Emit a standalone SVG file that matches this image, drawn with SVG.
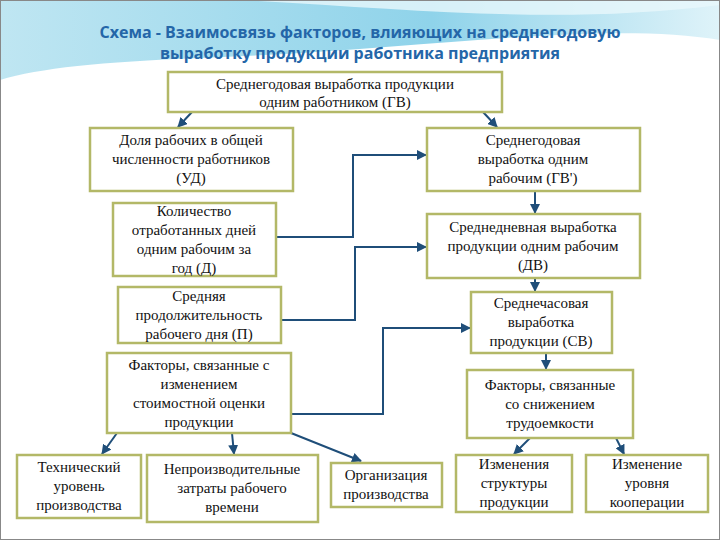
<svg xmlns="http://www.w3.org/2000/svg" width="720" height="540" viewBox="0 0 720 540">
<style>
.b{fill:#fff;stroke:#b3b867;stroke-width:2.5}
.t{font-family:"Liberation Serif","DejaVu Serif",serif;font-size:15px;fill:#111;text-anchor:middle}
.c{fill:none;stroke:#1f4e79;stroke-width:2;marker-end:url(#a)}
.h{font-family:"Open Sans","DejaVu Sans",sans-serif;font-size:16px;font-weight:bold;fill:#2466a8;text-anchor:middle}
</style>
<defs>
<marker id="a" viewBox="0 0 10 10" refX="9" refY="5" markerWidth="5" markerHeight="5" orient="auto"><path d="M0,0L10,5L0,10z" fill="#1f4e79"/></marker>
<linearGradient id="g" x1="0" y1="0" x2="1" y2="0"><stop offset="0" stop-color="#bfe6f2"/><stop offset="0.6" stop-color="#8fd3ea"/><stop offset="1" stop-color="#dff3f9"/></linearGradient>
</defs>
<rect width="720" height="540" fill="#fff"/>
<path d="M0,0H720V40C600,20 420,50 200,58C100,62 40,68 0,80Z" fill="url(#g)"/>
<path d="M240,0C420,10 560,25 720,5V0Z" fill="#e8f7fb" opacity="0.8"/>
<rect x="0.5" y="0.5" width="719" height="539" fill="none" stroke="#888"/>
<text class="h" x="360" y="38">Схема -  Взаимосвязь факторов, влияющих на среднегодовую</text>
<text class="h" x="360" y="59">выработку продукции работника предприятия</text>
<g id="connectors">
<path class="c" d="M192,112L178,127"/>
<path class="c" d="M483,112L497,127"/>
<path class="c" d="M276,237H353V155H426"/>
<path class="c" d="M535,191V213"/>
<path class="c" d="M281,320H355V247H426"/>
<path class="c" d="M535,278V291"/>
<path class="c" d="M291,414H383V328H470"/>
<path class="c" d="M546,353V369"/>
<path class="c" d="M117,433L102,454"/>
<path class="c" d="M232,433L234,454"/>
<path class="c" d="M291,433L361,461"/>
<path class="c" d="M530,438L514,454"/>
<path class="c" d="M616,438L624,454"/>
</g>
<g id="n0"><rect class="b" x="168" y="72" width="334" height="40"/><text class="t" x="335" y="89">Среднегодовая выработка продукции</text><text class="t" x="335" y="107">одним работником (ГВ)</text></g>
<g id="n1"><rect class="b" x="90" y="128" width="203" height="63"/><text class="t" x="191" y="145">Доля рабочих в общей</text><text class="t" x="191" y="164">численности работников</text><text class="t" x="191" y="183">(УД)</text></g>
<g id="n2"><rect class="b" x="427" y="128" width="213" height="63"/><text class="t" x="533" y="145">Среднегодовая</text><text class="t" x="533" y="164">выработка одним</text><text class="t" x="533" y="183">рабочим (ГВ')</text></g>
<g id="n3"><rect class="b" x="113" y="203" width="163" height="73"/><text class="t" x="194" y="216">Количество</text><text class="t" x="194" y="235">отработанных дней</text><text class="t" x="194" y="254">одним рабочим за</text><text class="t" x="194" y="273">год (Д)</text></g>
<g id="n4"><rect class="b" x="427" y="214" width="213" height="64"/><text class="t" x="533" y="232">Среднедневная выработка</text><text class="t" x="533" y="251">продукции одним рабочим</text><text class="t" x="533" y="270">(ДВ)</text></g>
<g id="n5"><rect class="b" x="118" y="287" width="163" height="56"/><text class="t" x="199" y="301">Средняя</text><text class="t" x="199" y="320">продолжительность</text><text class="t" x="199" y="339">рабочего дня (П)</text></g>
<g id="n6"><rect class="b" x="471" y="292" width="141" height="61"/><text class="t" x="541" y="308">Среднечасовая</text><text class="t" x="541" y="327">выработка</text><text class="t" x="541" y="346">продукции (СВ)</text></g>
<g id="n7"><rect class="b" x="107" y="353" width="184" height="80"/><text class="t" x="199" y="370">Факторы, связанные с</text><text class="t" x="199" y="389">изменением</text><text class="t" x="199" y="408">стоимостной оценки</text><text class="t" x="199" y="427">продукции</text></g>
<g id="n8"><rect class="b" x="467" y="370" width="166" height="68"/><text class="t" x="550" y="390">Факторы, связанные</text><text class="t" x="550" y="409">со снижением</text><text class="t" x="550" y="428">трудоемкости</text></g>
<g id="n9"><rect class="b" x="17" y="455" width="124" height="63"/><text class="t" x="79" y="472">Технический</text><text class="t" x="79" y="491">уровень</text><text class="t" x="79" y="510">производства</text></g>
<g id="n10"><rect class="b" x="147" y="455" width="171" height="67"/><text class="t" x="232" y="474">Непроизводительные</text><text class="t" x="232" y="493">затраты рабочего</text><text class="t" x="232" y="512">времени</text></g>
<g id="n11"><rect class="b" x="331" y="463" width="111" height="44"/><text class="t" x="386" y="480">Организация</text><text class="t" x="386" y="499">производства</text></g>
<g id="n12"><rect class="b" x="456" y="455" width="116" height="57"/><text class="t" x="514" y="469">Изменения</text><text class="t" x="514" y="488">структуры</text><text class="t" x="514" y="507">продукции</text></g>
<g id="n13"><rect class="b" x="586" y="455" width="122" height="57"/><text class="t" x="647" y="469">Изменение</text><text class="t" x="647" y="488">уровня</text><text class="t" x="647" y="507">кооперации</text></g>
</svg>
